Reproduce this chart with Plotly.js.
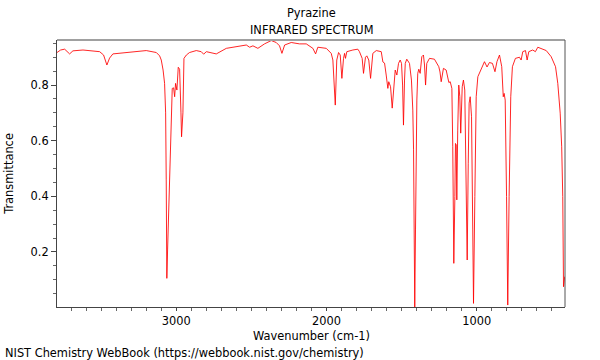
<!DOCTYPE html>
<html>
<head>
<meta charset="utf-8">
<script src="https://cdn.plot.ly/plotly-3.0.1.min.js"></script>
<style>html,body{margin:0;padding:0;background:#fff;}#chart{width:600px;height:360px;}</style>
</head>
<body>
<div id="chart"></div>
<script>
// Wavenumber (cm-1)
const wavenumber = [3794,3770,3743,3723,3710,3688,3621,3510,3484,3462,3444,3422,3291,3200,3133,3111,3100,3088,3078,3071,3067,3063,3058,3049,3038,3027,3018,3011,3005,2996,2987,2978,2969,2965,2956,2949,2933,2912,2867,2834,2818,2800,2734,2667,2534,2512,2490,2457,2413,2368,2335,2313,2297,2279,2235,2180,2135,2091,2073,2058,2002,1969,1958,1942,1932,1920,1909,1898,1887,1880,1874,1865,1825,1792,1781,1763,1754,1741,1732,1719,1707,1692,1669,1636,1625,1614,1603,1592,1586,1574,1563,1554,1543,1532,1521,1510,1501,1494,1488,1481,1476,1466,1448,1435,1426,1421,1417,1413,1408,1403,1399,1393,1386,1377,1366,1355,1348,1341,1333,1315,1282,1253,1245,1237,1222,1204,1186,1177,1166,1160,1153,1146,1142,1137,1133,1127,1120,1113,1107,1097,1089,1080,1071,1064,1057,1051,1044,1035,1027,1022,1013,1004,993,971,949,932,916,896,879,866,849,834,824,818,811,802,794,785,774,763,743,716,705,694,676,665,654,628,610,594,572,538,505,476,461,445,435,428,423,415];
// Transmittance
const transmittance = [0.917,0.926,0.929,0.919,0.912,0.923,0.926,0.920,0.908,0.872,0.897,0.912,0.920,0.924,0.917,0.905,0.890,0.854,0.806,0.700,0.459,0.105,0.207,0.399,0.638,0.788,0.790,0.758,0.806,0.782,0.864,0.857,0.700,0.614,0.700,0.896,0.908,0.917,0.924,0.920,0.911,0.920,0.912,0.932,0.944,0.936,0.941,0.932,0.948,0.960,0.953,0.941,0.914,0.944,0.953,0.948,0.948,0.932,0.912,0.936,0.932,0.914,0.890,0.728,0.890,0.917,0.908,0.824,0.896,0.914,0.896,0.920,0.926,0.929,0.920,0.896,0.842,0.900,0.905,0.890,0.824,0.914,0.924,0.920,0.883,0.879,0.836,0.788,0.812,0.794,0.717,0.788,0.854,0.836,0.878,0.890,0.878,0.800,0.656,0.818,0.878,0.893,0.878,0.818,0.710,0.567,0.279,0.002,0.279,0.603,0.746,0.842,0.857,0.842,0.902,0.908,0.872,0.800,0.878,0.896,0.893,0.866,0.847,0.812,0.860,0.854,0.809,0.812,0.788,0.578,0.159,0.399,0.590,0.585,0.387,0.638,0.800,0.758,0.627,0.794,0.818,0.782,0.519,0.171,0.519,0.735,0.758,0.686,0.279,0.015,0.399,0.758,0.830,0.860,0.884,0.865,0.881,0.878,0.848,0.884,0.908,0.866,0.758,0.770,0.746,0.399,0.009,0.399,0.758,0.866,0.896,0.900,0.890,0.920,0.924,0.890,0.920,0.926,0.920,0.936,0.932,0.924,0.902,0.866,0.806,0.699,0.578,0.399,0.075,0.111];

const xTickVals = [3000, 2000, 1000];
const yTickVals = [0.2, 0.4, 0.6, 0.8];

const FS = 11.4;
const font = {family: 'DejaVu Sans, sans-serif', size: FS, color: '#000'};

const trace = {
  x: wavenumber, y: transmittance, type: 'scatter', mode: 'lines',
  line: {color: 'rgba(255,0,0,0.85)', width: 1}, hoverinfo: 'skip'
};

const layout = {
  width: 600, height: 360,
  margin: {l: 57, r: 34.5, t: 40, b: 52.5},
  paper_bgcolor: '#fff', plot_bgcolor: '#fff',
  showlegend: false,
  font: font,
  xaxis: {
    range: [3794, 413], autorange: false,
    tickmode: 'array', tickvals: xTickVals, ticktext: xTickVals.map(String),
    ticks: 'outside', ticklen: 3, tickcolor: '#444', tickwidth: 1,
    minor: {dtick: 100, tick0: 0, ticks: 'outside', ticklen: 3, tickcolor: '#666', showgrid: false},
    showgrid: false, zeroline: false,
    showline: true, linecolor: '#444', linewidth: 1, mirror: false,
    tickfont: font
  },
  yaxis: {
    range: [0.002, 0.962], autorange: false,
    tickmode: 'array', tickvals: yTickVals, ticktext: yTickVals.map(v => v.toFixed(1)),
    ticks: 'outside', ticklen: 5, tickcolor: '#444', tickwidth: 1,
    minor: {dtick: 0.05, tick0: 0, ticks: 'outside', ticklen: 3, tickcolor: '#666', showgrid: false},
    showgrid: false, zeroline: false,
    showline: true, linecolor: '#444', linewidth: 1, mirror: false,
    tickfont: font,
    title: {text: 'Transmittance', font: font, standoff: 14}
  },
  shapes: [
    {type: 'line', xref: 'paper', yref: 'paper', x0: 0, x1: 1, y0: 1, y1: 1, line: {color: '#a0a0a0', width: 2}},
    {type: 'line', xref: 'paper', yref: 'paper', x0: 1, x1: 1, y0: 0, y1: 1, line: {color: '#555', width: 1}}
  ],
  annotations: [
    {text: 'Pyrazine', xref: 'paper', yref: 'paper', x: 0.5, y: 1, yshift: 27, xanchor: 'center', yanchor: 'middle', showarrow: false, font: font},
    {text: 'INFRARED SPECTRUM', xref: 'paper', yref: 'paper', x: 0.5, y: 1, yshift: 10, xanchor: 'center', yanchor: 'middle', showarrow: false, font: font},
    {text: 'Wavenumber (cm-1)', xref: 'paper', yref: 'paper', x: 0.5, y: 0, yshift: -28.5, xanchor: 'center', yanchor: 'middle', showarrow: false, font: font},
    {text: 'NIST Chemistry WebBook (https://webbook.nist.gov/chemistry)', xref: 'paper', yref: 'paper', x: 0, xshift: -54, y: 0, yshift: -45.5, xanchor: 'left', yanchor: 'middle', showarrow: false, font: font}
  ]
};

Plotly.newPlot('chart', [trace], layout, {staticPlot: true, displayModeBar: false});
</script>
</body>
</html>
